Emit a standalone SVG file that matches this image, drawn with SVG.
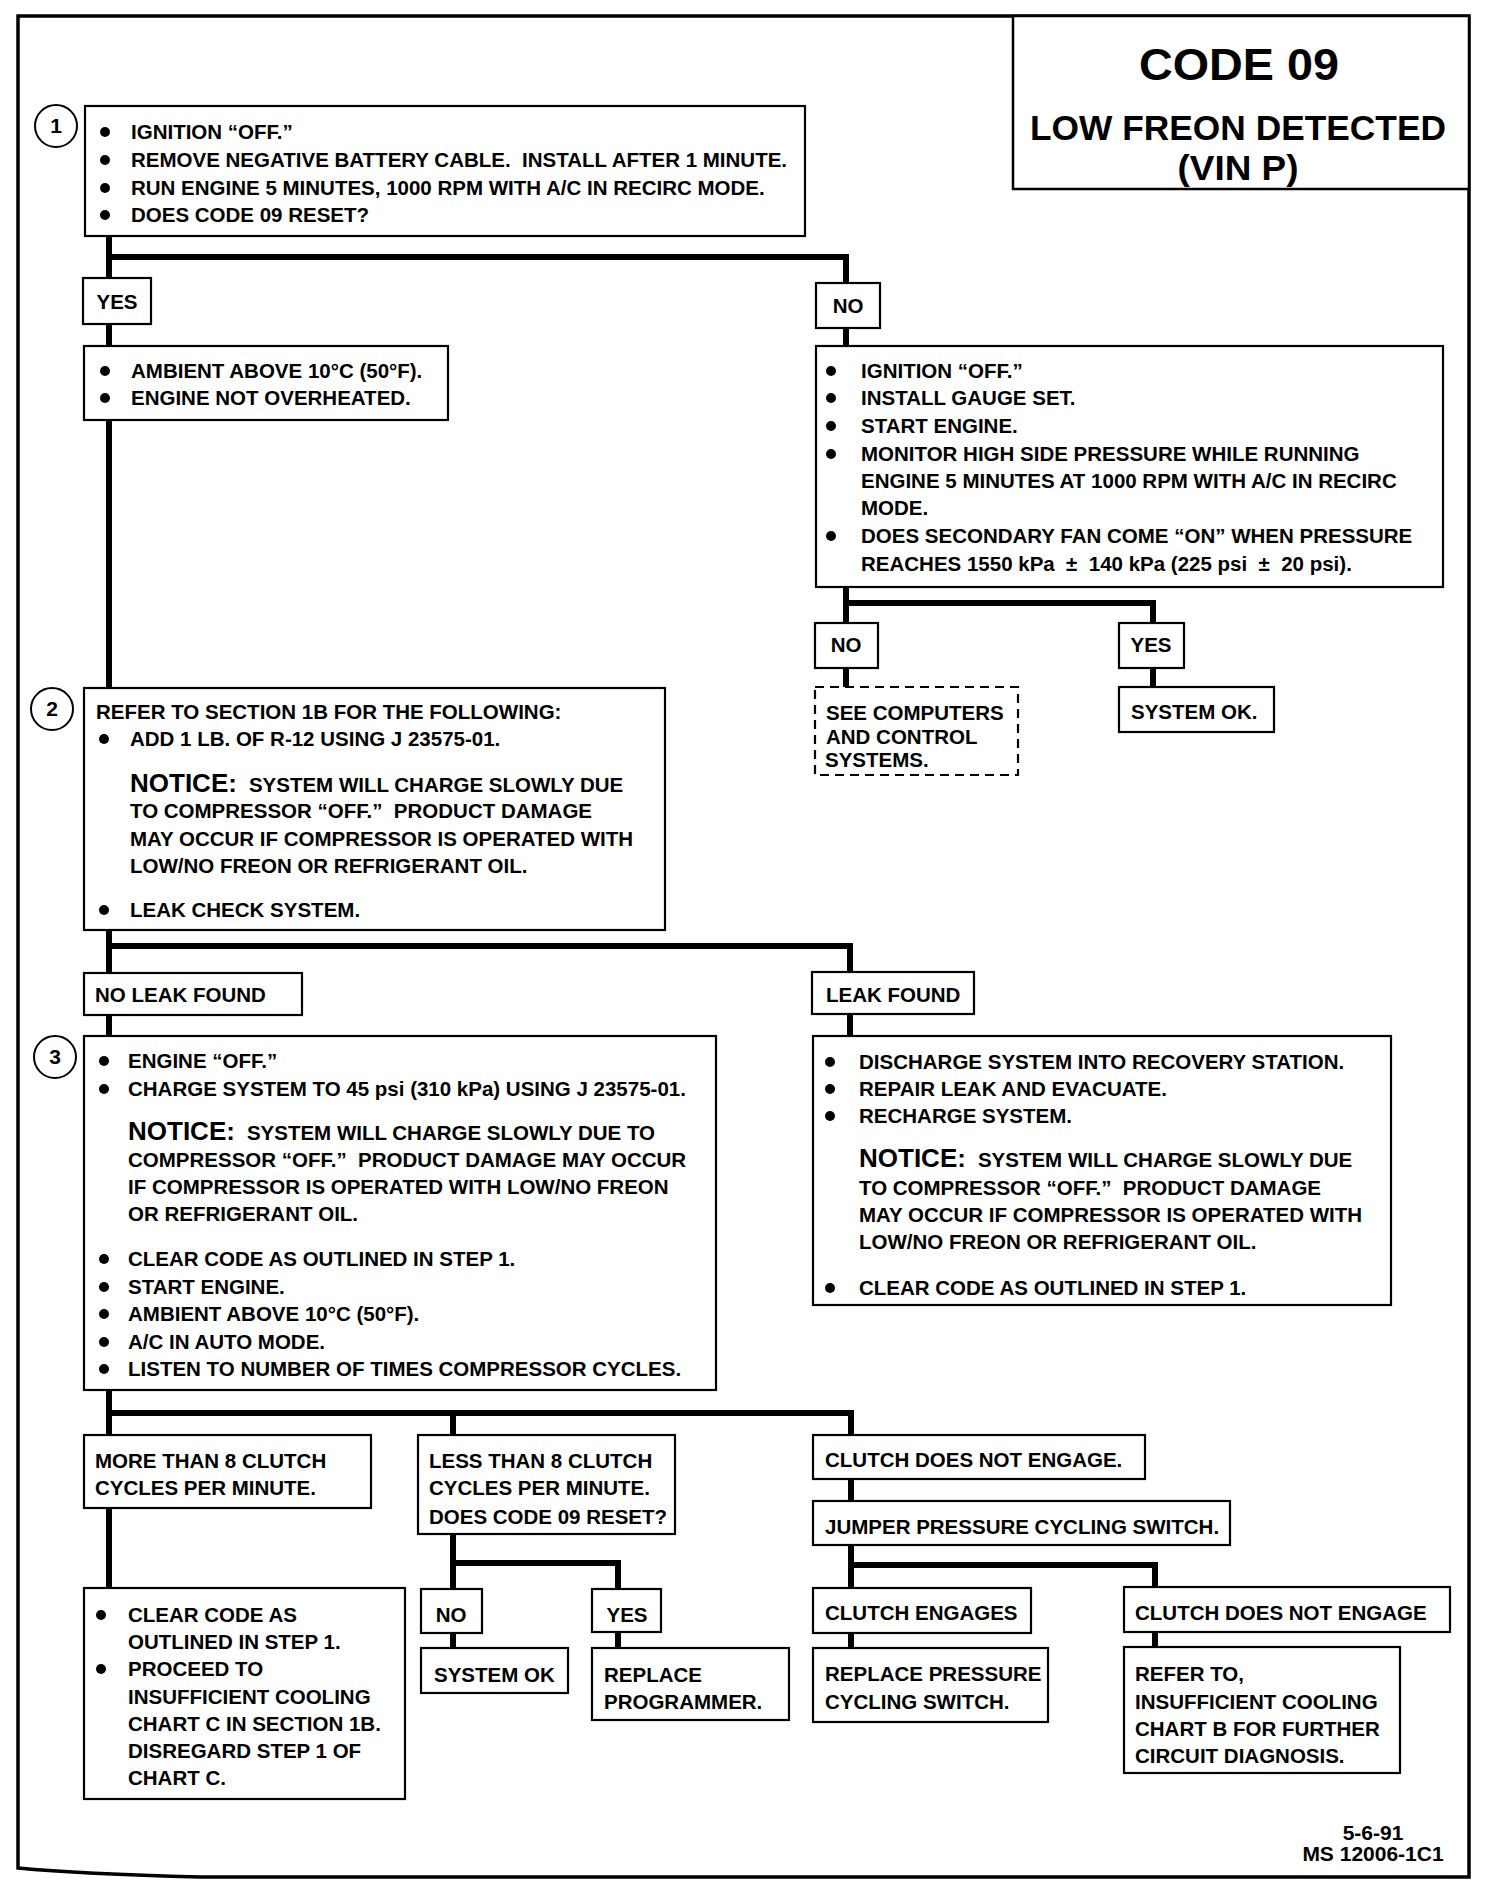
<svg xmlns="http://www.w3.org/2000/svg" xmlns:xlink="http://www.w3.org/1999/xlink" width="1504" height="1902" viewBox="0 0 1504 1902">
<style>
.bx{fill:#fff;stroke:#000;stroke-width:2.2}
.dbx{fill:#fff;stroke:#000;stroke-width:2.2;stroke-dasharray:9 6}
.cn{fill:none;stroke:#000;stroke-width:6;stroke-linejoin:miter;stroke-linecap:square}
.fr{fill:none;stroke:#000;stroke-width:3.5}
text{font-family:"Liberation Sans",Arial,sans-serif;font-weight:bold;fill:#000}
.t{font-size:20.5px}
.nt{font-size:26px}
.c{text-anchor:middle}
.num{font-size:21px;text-anchor:middle}
.ci{fill:#fff;stroke:#000;stroke-width:2}
</style>
<defs>
<circle id="bul" r="5" fill="#000"/>
</defs>
<rect x="0" y="0" width="1504" height="1902" fill="#fff"/>
<path class="fr" d="M18,16 H1469 V1877 H200 Q80,1874 18,1868 Z"/>

<g id="title">
<rect class="bx" x="1013" y="16" width="456" height="173" style="stroke-width:2.5"/>
<text x="1239" y="80" font-size="45" class="c" textLength="200" lengthAdjust="spacingAndGlyphs">CODE 09</text>
<text x="1238" y="140" font-size="35" class="c" textLength="416" lengthAdjust="spacingAndGlyphs">LOW FREON DETECTED</text>
<text x="1238" y="180" font-size="35" class="c" textLength="121" lengthAdjust="spacingAndGlyphs">(VIN P)</text>
</g>

<g id="connectors">
<path class="cn" d="M109,236 V688"/>
<path class="cn" d="M109,257 H846 V283"/>
<path class="cn" d="M846,328 V346"/>
<path class="cn" d="M846,587 V623 M846,603 H1153 V623"/>
<path class="cn" d="M846,668 V687 M1153,668 V687"/>
<path class="cn" d="M109,930 V973 M109,946 H850 V972"/>
<path class="cn" d="M850,1014 V1036"/>
<path class="cn" d="M109,1015 V1036"/>
<path class="cn" d="M109,1390 V1435 M109,1413 H851 V1435 M453,1413 V1435"/>
<path class="cn" d="M109,1508 V1588"/>
<path class="cn" d="M453,1534 V1589 M453,1563 H618 V1589"/>
<path class="cn" d="M453,1633 V1648 M618,1632 V1648"/>
<path class="cn" d="M851,1479 V1501"/>
<path class="cn" d="M851,1545 V1588 M851,1565 H1155 V1587"/>
<path class="cn" d="M851,1633 V1648 M1155,1632 V1647"/>
</g>

<g id="step1">
<circle class="ci" cx="56" cy="126" r="21"/>
<text class="num" x="56" y="133">1</text>
<rect class="bx" x="85" y="106" width="720" height="130"/>
<use xlink:href="#bul" x="105" y="132"/>
<use xlink:href="#bul" x="105" y="160"/>
<use xlink:href="#bul" x="105" y="188"/>
<use xlink:href="#bul" x="105" y="215"/>
<text class="t" x="131" y="139">IGNITION “OFF.”</text>
<text class="t" x="131" y="167" xml:space="preserve">REMOVE NEGATIVE BATTERY CABLE.  INSTALL AFTER 1 MINUTE.</text>
<text class="t" x="131" y="195">RUN ENGINE 5 MINUTES, 1000 RPM WITH A/C IN RECIRC MODE.</text>
<text class="t" x="131" y="222">DOES CODE 09 RESET?</text>
</g>

<g id="yes1">
<rect class="bx" x="83" y="278" width="68" height="46"/>
<text class="t c" x="117" y="309">YES</text>
</g>

<g id="ambient">
<rect class="bx" x="84" y="346" width="364" height="74"/>
<use xlink:href="#bul" x="105" y="371"/>
<use xlink:href="#bul" x="105" y="398"/>
<text class="t" x="131" y="378">AMBIENT ABOVE 10°C (50°F).</text>
<text class="t" x="131" y="405">ENGINE NOT OVERHEATED.</text>
</g>

<g id="no1">
<rect class="bx" x="816" y="283" width="64" height="45"/>
<text class="t c" x="848" y="313">NO</text>
</g>

<g id="pressure">
<rect class="bx" x="816" y="346" width="627" height="241"/>
<use xlink:href="#bul" x="831" y="371"/>
<use xlink:href="#bul" x="831" y="398"/>
<use xlink:href="#bul" x="831" y="426"/>
<use xlink:href="#bul" x="831" y="454"/>
<use xlink:href="#bul" x="831" y="536"/>
<text class="t" x="861" y="378">IGNITION “OFF.”</text>
<text class="t" x="861" y="405">INSTALL GAUGE SET.</text>
<text class="t" x="861" y="433">START ENGINE.</text>
<text class="t" x="861" y="461">MONITOR HIGH SIDE PRESSURE WHILE RUNNING</text>
<text class="t" x="861" y="488">ENGINE 5 MINUTES AT 1000 RPM WITH A/C IN RECIRC</text>
<text class="t" x="861" y="515">MODE.</text>
<text class="t" x="861" y="543">DOES SECONDARY FAN COME “ON” WHEN PRESSURE</text>
<text class="t" x="861" y="571" xml:space="preserve">REACHES 1550 kPa  ±  140 kPa (225 psi  ±  20 psi).</text>
</g>

<g id="no2">
<rect class="bx" x="815" y="623" width="63" height="45"/>
<text class="t c" x="846" y="652">NO</text>
</g>
<g id="yes2">
<rect class="bx" x="1119" y="623" width="65" height="45"/>
<text class="t c" x="1151" y="652">YES</text>
</g>
<g id="seecomputers">
<rect class="dbx" x="815" y="687" width="203" height="88"/>
<text class="t" x="826" y="720">SEE COMPUTERS</text>
<text class="t" x="826" y="744">AND CONTROL</text>
<text class="t" x="825" y="767">SYSTEMS.</text>
</g>
<g id="systemok1">
<rect class="bx" x="1119" y="687" width="155" height="45"/>
<text class="t" x="1131" y="719">SYSTEM OK.</text>
</g>

<g id="step2">
<circle class="ci" cx="52" cy="709" r="21"/>
<text class="num" x="52" y="716">2</text>
<rect class="bx" x="84" y="688" width="581" height="242"/>
<text class="t" x="96" y="719">REFER TO SECTION 1B FOR THE FOLLOWING:</text>
<use xlink:href="#bul" x="104" y="739"/>
<text class="t" x="130" y="746">ADD 1 LB. OF R-12 USING J 23575-01.</text>
<text class="t" x="130" y="792"><tspan class="nt">NOTICE:</tspan><tspan dx="12">SYSTEM WILL CHARGE SLOWLY DUE</tspan></text>
<text class="t" x="130" y="818" xml:space="preserve">TO COMPRESSOR “OFF.”  PRODUCT DAMAGE</text>
<text class="t" x="130" y="846">MAY OCCUR IF COMPRESSOR IS OPERATED WITH</text>
<text class="t" x="130" y="873">LOW/NO FREON OR REFRIGERANT OIL.</text>
<use xlink:href="#bul" x="104" y="910"/>
<text class="t" x="130" y="917">LEAK CHECK SYSTEM.</text>
</g>

<g id="noleak">
<rect class="bx" x="84" y="973" width="218" height="42"/>
<text class="t" x="95" y="1002">NO LEAK FOUND</text>
</g>
<g id="leakfound">
<rect class="bx" x="812" y="972" width="162" height="42"/>
<text class="t" x="826" y="1002">LEAK FOUND</text>
</g>

<g id="step3">
<circle class="ci" cx="55" cy="1057" r="21"/>
<text class="num" x="55" y="1064">3</text>
<rect class="bx" x="84" y="1036" width="632" height="354"/>
<use xlink:href="#bul" x="104" y="1061"/>
<use xlink:href="#bul" x="104" y="1089"/>
<use xlink:href="#bul" x="104" y="1259"/>
<use xlink:href="#bul" x="104" y="1287"/>
<use xlink:href="#bul" x="104" y="1314"/>
<use xlink:href="#bul" x="104" y="1342"/>
<use xlink:href="#bul" x="104" y="1369"/>
<text class="t" x="128" y="1068">ENGINE “OFF.”</text>
<text class="t" x="128" y="1096">CHARGE SYSTEM TO 45 psi (310 kPa) USING J 23575-01.</text>
<text class="t" x="128" y="1140"><tspan class="nt">NOTICE:</tspan><tspan dx="12">SYSTEM WILL CHARGE SLOWLY DUE TO</tspan></text>
<text class="t" x="128" y="1167" xml:space="preserve">COMPRESSOR “OFF.”  PRODUCT DAMAGE MAY OCCUR</text>
<text class="t" x="128" y="1194">IF COMPRESSOR IS OPERATED WITH LOW/NO FREON</text>
<text class="t" x="128" y="1221">OR REFRIGERANT OIL.</text>
<text class="t" x="128" y="1266">CLEAR CODE AS OUTLINED IN STEP 1.</text>
<text class="t" x="128" y="1294">START ENGINE.</text>
<text class="t" x="128" y="1321">AMBIENT ABOVE 10°C (50°F).</text>
<text class="t" x="128" y="1349">A/C IN AUTO MODE.</text>
<text class="t" x="128" y="1376">LISTEN TO NUMBER OF TIMES COMPRESSOR CYCLES.</text>
</g>

<g id="leakrepair">
<rect class="bx" x="813" y="1036" width="578" height="269"/>
<use xlink:href="#bul" x="830" y="1062"/>
<use xlink:href="#bul" x="830" y="1089"/>
<use xlink:href="#bul" x="830" y="1116"/>
<use xlink:href="#bul" x="830" y="1288"/>
<text class="t" x="859" y="1069">DISCHARGE SYSTEM INTO RECOVERY STATION.</text>
<text class="t" x="859" y="1096">REPAIR LEAK AND EVACUATE.</text>
<text class="t" x="859" y="1123">RECHARGE SYSTEM.</text>
<text class="t" x="859" y="1167"><tspan class="nt">NOTICE:</tspan><tspan dx="12">SYSTEM WILL CHARGE SLOWLY DUE</tspan></text>
<text class="t" x="859" y="1195" xml:space="preserve">TO COMPRESSOR “OFF.”  PRODUCT DAMAGE</text>
<text class="t" x="859" y="1222">MAY OCCUR IF COMPRESSOR IS OPERATED WITH</text>
<text class="t" x="859" y="1249">LOW/NO FREON OR REFRIGERANT OIL.</text>
<text class="t" x="859" y="1295">CLEAR CODE AS OUTLINED IN STEP 1.</text>
</g>

<g id="morethan">
<rect class="bx" x="84" y="1435" width="287" height="73"/>
<text class="t" x="95" y="1468">MORE THAN 8 CLUTCH</text>
<text class="t" x="95" y="1495">CYCLES PER MINUTE.</text>
</g>
<g id="lessthan">
<rect class="bx" x="418" y="1435" width="257" height="99"/>
<text class="t" x="429" y="1468">LESS THAN 8 CLUTCH</text>
<text class="t" x="429" y="1495">CYCLES PER MINUTE.</text>
<text class="t" x="429" y="1524">DOES CODE 09 RESET?</text>
</g>
<g id="clutchnot1">
<rect class="bx" x="813" y="1435" width="332" height="44"/>
<text class="t" x="825" y="1467">CLUTCH DOES NOT ENGAGE.</text>
</g>
<g id="jumper">
<rect class="bx" x="813" y="1501" width="417" height="44"/>
<text class="t" x="825" y="1534">JUMPER PRESSURE CYCLING SWITCH.</text>
</g>
<g id="clearcode">
<rect class="bx" x="84" y="1588" width="321" height="211"/>
<use xlink:href="#bul" x="101" y="1615"/>
<use xlink:href="#bul" x="101" y="1669"/>
<text class="t" x="128" y="1622">CLEAR CODE AS</text>
<text class="t" x="128" y="1649">OUTLINED IN STEP 1.</text>
<text class="t" x="128" y="1676">PROCEED TO</text>
<text class="t" x="128" y="1704">INSUFFICIENT COOLING</text>
<text class="t" x="128" y="1731">CHART C IN SECTION 1B.</text>
<text class="t" x="128" y="1758">DISREGARD STEP 1 OF</text>
<text class="t" x="128" y="1785">CHART C.</text>
</g>
<g id="no3">
<rect class="bx" x="421" y="1589" width="61" height="44"/>
<text class="t c" x="451" y="1622">NO</text>
</g>
<g id="yes3">
<rect class="bx" x="592" y="1589" width="69" height="43"/>
<text class="t c" x="627" y="1622">YES</text>
</g>
<g id="systemok2">
<rect class="bx" x="421" y="1648" width="147" height="45"/>
<text class="t" x="434" y="1682">SYSTEM OK</text>
</g>
<g id="programmer">
<rect class="bx" x="592" y="1648" width="197" height="72"/>
<text class="t" x="604" y="1682">REPLACE</text>
<text class="t" x="604" y="1709">PROGRAMMER.</text>
</g>
<g id="engages">
<rect class="bx" x="813" y="1588" width="218" height="45"/>
<text class="t" x="825" y="1620">CLUTCH ENGAGES</text>
</g>
<g id="clutchnot2">
<rect class="bx" x="1124" y="1587" width="326" height="45"/>
<text class="t" x="1135" y="1620">CLUTCH DOES NOT ENGAGE</text>
</g>
<g id="replaceswitch">
<rect class="bx" x="813" y="1648" width="235" height="74"/>
<text class="t" x="825" y="1681">REPLACE PRESSURE</text>
<text class="t" x="825" y="1709">CYCLING SWITCH.</text>
</g>
<g id="referchartb">
<rect class="bx" x="1124" y="1647" width="276" height="126"/>
<text class="t" x="1135" y="1681">REFER TO,</text>
<text class="t" x="1135" y="1709">INSUFFICIENT COOLING</text>
<text class="t" x="1135" y="1736">CHART B FOR FURTHER</text>
<text class="t" x="1135" y="1763">CIRCUIT DIAGNOSIS.</text>
</g>

<g id="footer">
<text x="1373" y="1840" font-size="21" class="c">5-6-91</text>
<text x="1373" y="1861" font-size="21" class="c">MS 12006-1C1</text>
</g>
</svg>
